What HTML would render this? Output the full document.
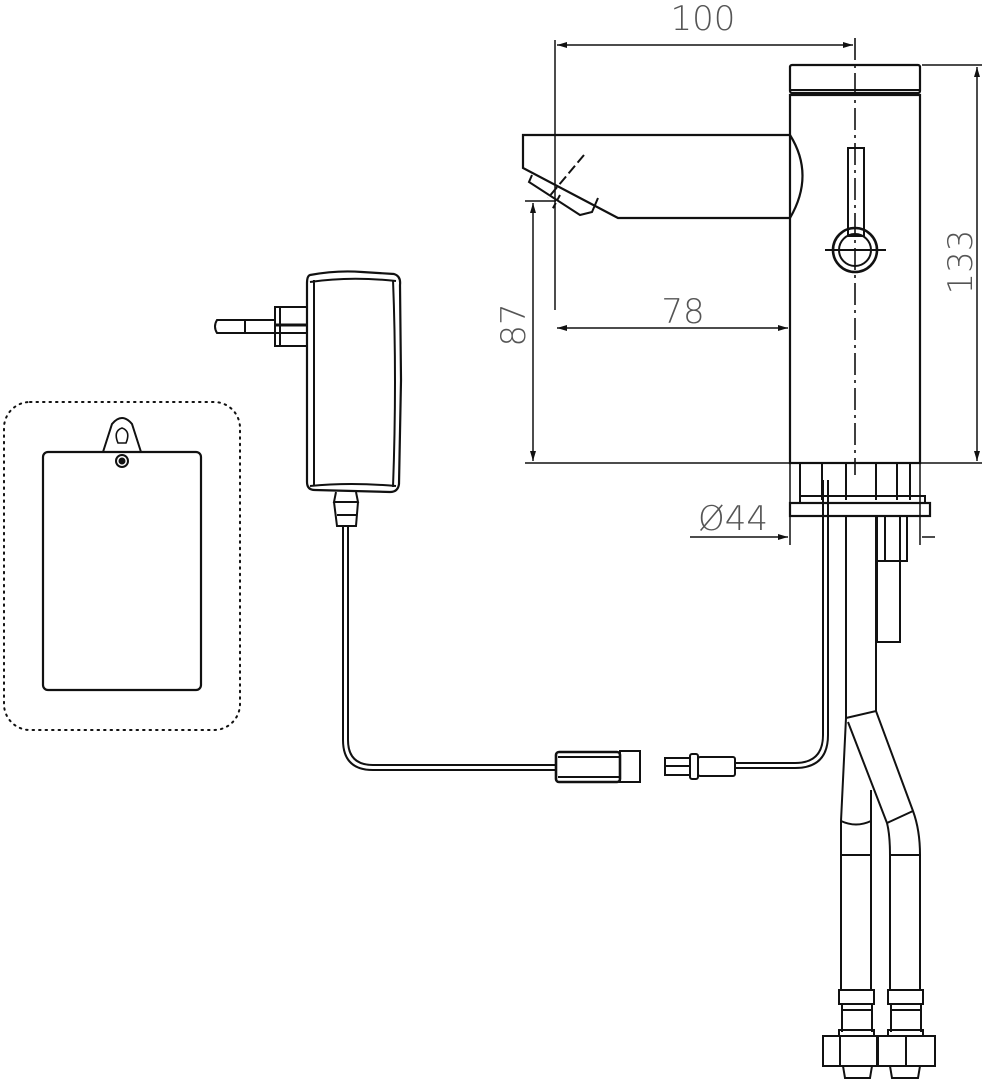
<!DOCTYPE html>
<html><head><meta charset="utf-8"><style>
html,body{margin:0;padding:0;background:#fff}
svg{display:block}
text{font-family:"DejaVu Sans","Liberation Sans",sans-serif;fill:#555;font-size:34px;font-weight:300}
</style></head><body>
<svg width="984" height="1080" viewBox="0 0 984 1080" xmlns="http://www.w3.org/2000/svg">
<defs>
<marker id="a" viewBox="0 0 10 6" refX="10" refY="3" markerWidth="16" markerHeight="6" orient="auto-start-reverse" markerUnits="userSpaceOnUse"><path d="M0,0 L10,3 L0,6 z" fill="#111"/></marker>
</defs>
<g fill="none" stroke="#111" stroke-width="2">
<!-- wall box -->
<rect x="4" y="402" width="236" height="328" rx="26" stroke-dasharray="1.5 5" stroke-width="2" stroke-linecap="round"/>
<rect x="43" y="452" width="158" height="238" rx="5" stroke-width="2.2"/>
<path d="M103,452 L112,424 Q122,412 132,424 L141,452" stroke-width="2"/>
<path d="M118,443 Q113,431 122,428 Q131,431 126,443 Z" stroke-width="1.6"/>
<circle cx="122" cy="461" r="6"/><circle cx="122" cy="461" r="2.5" fill="#111"/>

<!-- adapter -->
<path d="M217,320 L275,320 L275,333 L217,333 Q213,326.5 217,320 Z"/>
<line x1="245" y1="320" x2="245" y2="333"/>
<rect x="275" y="307" width="32" height="39"/>
<line x1="280" y1="307" x2="280" y2="346"/>
<line x1="275" y1="325" x2="307" y2="325" stroke-width="3"/>
<line x1="275" y1="333" x2="307" y2="333"/>
<path d="M310,275 Q337,270 362,272 L394,274 Q401,276 400,285 L401,380 L399,484 Q398,492 390,492 L315,490 Q307,490 307,482 L307,283 Q307,276 310,275 Z" stroke-width="2.2"/>
<path d="M314,280 L314,485 M393,280 Q397,380 393,487 M310,282 Q350,276 396,281 M310,486 Q350,482 396,486"/>
<path d="M336,492 L334,502 L358,502 L356,492 M334,502 L337,526 L356,526 L358,502 M337,515 L356,515"/>
<!-- cable left -->
<path d="M343,526 L343,740 Q343,770 373,770 L555,770"/>
<path d="M348,526 L348,740 Q348,765 373,765 L555,765"/>
<!-- connectors -->
<rect x="556" y="752" width="64" height="30" rx="3" stroke-width="2.6"/>
<line x1="558" y1="757" x2="620" y2="757"/><line x1="558" y1="777" x2="620" y2="777"/>
<rect x="620" y="751" width="20" height="31"/>
<rect x="665" y="758" width="25" height="17"/>
<line x1="665" y1="766" x2="690" y2="766"/>
<rect x="690" y="754" width="8" height="25" rx="2"/>
<rect x="698" y="757" width="37" height="19" rx="2"/>
<path d="M735,763 L795,763 Q823,763 823,735 L823,480"/>
<path d="M735,768 L795,768 Q828,768 828,735 L828,480"/>

<!-- faucet body -->
<rect x="790" y="65" width="130" height="28" rx="2" stroke-width="2.2"/>
<line x1="790" y1="90" x2="920" y2="90"/>
<rect x="790" y="95" width="130" height="368" stroke-width="2.2"/>
<!-- spout -->
<path d="M790,135 L523,135 L523,168 L618,218 L790,218" stroke-width="2.2"/>
<path d="M790,135 Q815,175 790,218" stroke-width="2.2"/>
<path d="M532,175 L529,182 L580,215 L592,212 L598,198" />
<path d="M560,195 L552,210" stroke-dasharray="6 3"/>
<line x1="584" y1="155" x2="548" y2="198" stroke-dasharray="10 4"/>
<!-- lever -->
<rect x="848" y="148" width="16" height="88"/>
<circle cx="855" cy="250" r="22" stroke-width="2.6"/>
<circle cx="855" cy="250" r="16"/>
<line x1="825" y1="250" x2="886" y2="250"/>
<!-- center line -->
<line x1="855" y1="38" x2="855" y2="475" stroke-dasharray="22 5 3 5" stroke-width="1.6"/>
<!-- under body -->
<path d="M800,463 L800,500 M910,463 L910,500 M822,463 L822,500 M846,463 L846,500 M876,463 L876,500 M897,463 L897,500"/>
<rect x="800" y="496" width="125" height="7"/>
<rect x="790" y="503" width="140" height="13" stroke-width="2.2"/>
<!-- pipes -->
<path d="M846,516 L846,718 L841,821 L841,990 M876,516 L876,711"/>
<path d="M871,790 L871,990"/>
<path d="M846,718 L876,711 L913,811 Q920,830 920,855 L920,990"/>
<path d="M848,722 L887,823 Q890,835 890,855 L890,990"/>
<path d="M841,821 Q856,828 871,821 M887,823 L913,811 M841,855 L871,855 M890,855 L920,855"/>
<!-- nut -->
<rect x="877" y="516" width="30" height="45"/>
<line x1="885" y1="516" x2="885" y2="561"/><line x1="900" y1="516" x2="900" y2="561"/>
<rect x="877" y="561" width="23" height="81"/>
<!-- fittings -->
<rect x="839" y="990" width="35" height="14"/><rect x="888" y="990" width="35" height="14"/>
<path d="M842,1004 L842,1032 M872,1004 L872,1032 M891,1004 L891,1032 M921,1004 L921,1032 M842,1010 L872,1010 M891,1010 L921,1010"/>
<rect x="839" y="1030" width="35" height="6"/><rect x="888" y="1030" width="35" height="6"/>
<rect x="823" y="1036" width="54" height="30"/><rect x="878" y="1036" width="57" height="30"/>
<line x1="840" y1="1036" x2="840" y2="1066"/><line x1="906" y1="1036" x2="906" y2="1066"/>
<path d="M843,1066 L845,1078 L870,1078 L872,1066 M890,1066 L892,1078 L918,1078 L920,1066"/>

<!-- dimensions -->
<g stroke-width="1.5">
<line x1="555" y1="40" x2="555" y2="310"/>
<line x1="557" y1="45" x2="853" y2="45" marker-start="url(#a)" marker-end="url(#a)"/>
<line x1="922" y1="65" x2="982" y2="65"/>
<line x1="525" y1="463" x2="982" y2="463"/>
<line x1="977" y1="67" x2="977" y2="461" marker-start="url(#a)" marker-end="url(#a)"/>
<line x1="557" y1="328" x2="788" y2="328" marker-start="url(#a)" marker-end="url(#a)"/>
<line x1="525" y1="201" x2="556" y2="201"/>
<line x1="533" y1="203" x2="533" y2="461" marker-start="url(#a)" marker-end="url(#a)"/>
<line x1="790" y1="463" x2="790" y2="545"/>
<line x1="920" y1="463" x2="920" y2="545"/>
<line x1="690" y1="537" x2="788" y2="537" marker-end="url(#a)"/>
<line x1="922" y1="537" x2="935" y2="537"/>
</g>
</g>
<text x="703" y="30" text-anchor="middle">100</text>
<text x="683" y="323" text-anchor="middle">78</text>
<text x="733" y="530" text-anchor="middle">Ø44</text>
<text transform="translate(525,325) rotate(-90)" text-anchor="middle">87</text>
<text transform="translate(972,262) rotate(-90)" text-anchor="middle">133</text>
</svg>
</body></html>
